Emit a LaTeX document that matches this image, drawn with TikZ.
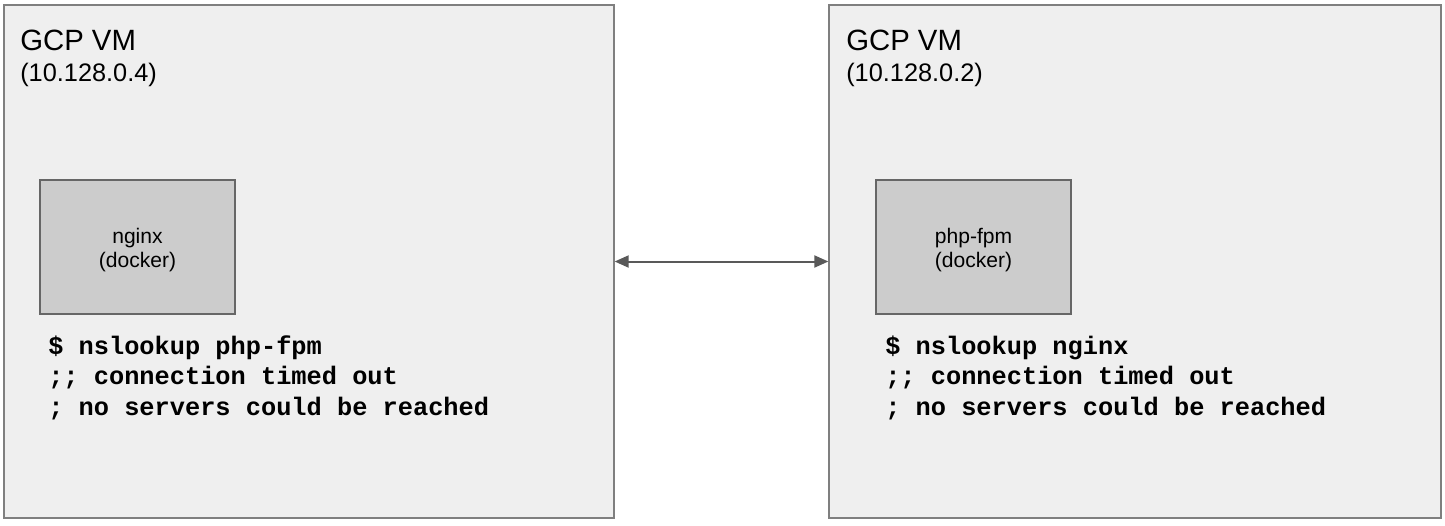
\documentclass[tikz,border=0pt]{standalone}
\usepackage{fontspec}
\setmainfont{Liberation Sans}
\setmonofont{Liberation Mono}
\usetikzlibrary{arrows.meta}
\definecolor{vmfill}{HTML}{EFEFEF}
\definecolor{vmdraw}{HTML}{7F7F7F}
\definecolor{dkfill}{HTML}{CCCCCC}
\definecolor{dkdraw}{HTML}{666666}
\definecolor{arrowc}{HTML}{595959}
\tikzset{
  vmbox/.style={draw=vmdraw, fill=vmfill, line width=1pt, minimum height=384.75pt, inner sep=0pt},
  dockerbox/.style={draw=dkdraw, fill=dkfill, line width=0.9pt, minimum width=146.25pt, minimum height=100.5pt, inner sep=0pt},
  titletext/.style={anchor=base west, inner sep=0pt, font=\fontsize{22}{26}\selectfont},
  iptext/.style={anchor=base west, inner sep=0pt, font=\fontsize{19}{22}\selectfont},
  dockertext/.style={anchor=base, inner sep=0pt, font=\fontsize{15.8}{18}\selectfont},
  cmdtext/.style={anchor=base west, inner sep=0pt, font=\ttfamily\bfseries\fontsize{19}{22}\selectfont},
  link/.style={draw=arrowc, line width=1.5pt, {Triangle[length=10.5pt,width=9pt]}-{Triangle[length=10.5pt,width=9pt]}}
}
\begin{document}
\begin{tikzpicture}[x=0.75pt,y=-0.75pt]
\useasboundingbox[fill=white] (0,0) rectangle (1445,525);
% VM boxes
\node[vmbox, minimum width=457.5pt] (lvm) at (309,261.5) {};
\node[vmbox, minimum width=459pt] (rvm) at (1135,261.5) {};
% titles
\node[titletext] (ltitle) at (20,50) {GCP VM};
\node[iptext] (lip) at (20,81) {(10.128.0.4)};
\node[titletext] (rtitle) at (846,50) {GCP VM};
\node[iptext] (rip) at (846,81) {(10.128.0.2)};
% docker boxes
\node[dockerbox] (ldock) at (137.5,247) {};
\node[dockerbox] (rdock) at (973.5,247) {};
\node[dockertext] (ldock1) at (137.5,243) {nginx};
\node[dockertext] (ldock2) at (137.5,267) {(docker)};
\node[dockertext] (rdock1) at (973.5,243) {php-fpm};
\node[dockertext] (rdock2) at (973.5,267) {(docker)};
% commands
\node[cmdtext] (lc1) at (48,354) {\$ nslookup php-fpm};
\node[cmdtext] (lc2) at (48,384.5) {;; connection timed out};
\node[cmdtext] (lc3) at (48,415) {; no servers could be reached};
\node[cmdtext] (rc1) at (885,354) {\$ nslookup nginx};
\node[cmdtext] (rc2) at (885,384.5) {;; connection timed out};
\node[cmdtext] (rc3) at (885,415) {; no servers could be reached};
% link
\draw[link] (lvm.east) -- (rvm.west);
\end{tikzpicture}
\end{document}
